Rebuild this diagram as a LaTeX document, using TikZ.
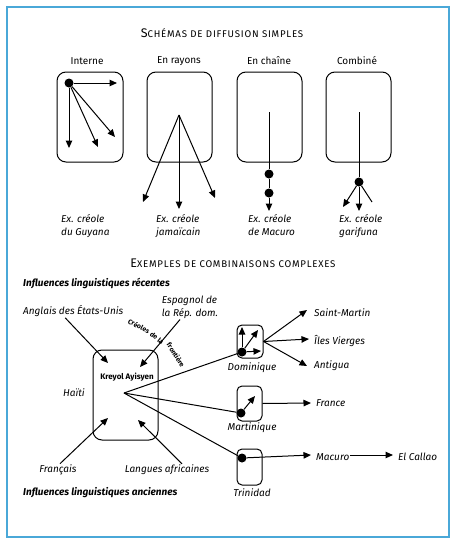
\documentclass[tikz,border=0pt]{standalone}
\usepackage{fontspec}
\setmainfont{Fira Sans}
\usepackage{xcolor}
\usepackage{tikz}
\usetikzlibrary{positioning}
\usetikzlibrary{arrows.meta}
\definecolor{frameblue}{HTML}{4AA8D8}
\newcommand{\fakesc}[2]{{\fontsize{12.5}{14}\selectfont #1}{\fontsize{9.7}{11}\selectfont\addfontfeatures{LetterSpace=8}#2}}
\tikzset {
  % rounded boxes for the places
  place/.style = {draw, rounded corners=9pt, line width=1pt},
  small/.style = {draw, rounded corners=5pt, line width=1pt},
  % starting points
  dot/.style = {circle, fill, inner sep=0pt, minimum size=9pt},
  % arrows and plain lines
  arr/.style = {-{Triangle[length=7.5pt, width=6.5pt]}, line width=1pt},
  ln/.style = {line width=1pt},
  lbl/.style = {font=\fontsize{10}{13}\selectfont\itshape, inner sep=1pt},
  head/.style = {font=\fontsize{10}{13}\selectfont, inner sep=1pt},
  infl/.style = {font=\fontsize{10}{13}\selectfont\bfseries\itshape, anchor=west, inner sep=0pt},
  % words bent along the border
  bord/.style = {font=\fontsize{6.8}{7}\selectfont\bfseries, inner sep=0pt},
}

\begin{document}
\begin{tikzpicture}[x=1pt, y=-1pt]
  \useasboundingbox (0,0) rectangle (456,544);
  \draw[frameblue, line width=1.4pt] (7,7) rectangle (449,537);

  % simple schemes
  \node (t1) at (222,33) {\fakesc{S}{CHÉMAS DE DIFFUSION SIMPLES}};
  \node[head] (h1) at (87,61) {Interne};
  \node[head] (h2) at (179,61) {En rayons};
  \node[head] (h3) at (269,61) {En chaîne};
  \node[head] (h4) at (357,61) {Combiné};

  \node[place, minimum width=66pt, minimum height=90pt] (b1) at (90,117) {};
  \node[place, minimum width=65pt, minimum height=90pt] (b2) at (179.5,117) {};
  \node[place, minimum width=65pt, minimum height=90pt] (b3) at (269.5,117) {};
  \node[place, minimum width=65pt, minimum height=90pt] (b4) at (358.5,117) {};

  % interne
  \node[dot] (d1) at (69,83) {};
  \coordinate (i1) at (117,83);
  \coordinate (i2) at (115,137);
  \coordinate (i3) at (98,147);
  \coordinate (i4) at (69,148);
  \draw[arr] (d1) -- (i1);
  \draw[arr] (d1) -- (i2);
  \draw[arr] (d1) -- (i3);
  \draw[arr] (d1) -- (i4);

  % en rayons
  \coordinate (r0) at (179,115);
  \coordinate (r1) at (143,202);
  \coordinate (r2) at (179,209);
  \coordinate (r3) at (215,198);
  \draw[arr] (r0) -- (r1);
  \draw[arr] (r0) -- (r2);
  \draw[arr] (r0) -- (r3);

  % en chaine
  \coordinate (c0) at (269,112);
  \node[dot] (c1) at (269,174) {};
  \node[dot] (c2) at (269,193) {};
  \coordinate (c3) at (269,211);
  \draw[ln] (c0) -- (c1) -- (c2);
  \draw[arr] (c2) -- (c3);

  % combine
  \coordinate (m0) at (359,112);
  \node[dot] (m1) at (359,182) {};
  \coordinate (m2) at (343,207);
  \coordinate (m3) at (359,211);
  \coordinate (m4) at (372,202);
  \draw[ln] (m0) -- (m1);
  \draw[arr] (m1) -- (m2);
  \draw[arr] (m1) -- (m3);
  \draw[ln] (m1) -- (m4);

  \node[lbl, align=left, anchor=north west] (e1) at (60,213) {Ex. créole\\du Guyana};
  \node[lbl, align=left, anchor=north west] (e2) at (155,213) {Ex. créole\\jamaïcain};
  \node[lbl, align=left, anchor=north west] (e3) at (247,213) {Ex. créole\\de Macuro};
  \node[lbl, align=left, anchor=north west] (e4) at (338,213) {Ex. créole\\garifuna};

  % complex combinations
  \node (t2) at (233,263) {\fakesc{E}{XEMPLES DE COMBINAISONS COMPLEXES}};
  \node[infl] (rec) at (23,283) {Influences linguistiques récentes};
  \node[infl] (anc) at (23,493) {Influences linguistiques anciennes};

  \node[lbl, anchor=west] (anglais) at (22,311) {Anglais des États-Unis};
  \node[lbl, align=left] (espagnol) at (190,307) {Espagnol de\\la Rép. dom.};
  \node[lbl] (francais) at (58,470) {Français};
  \node[lbl] (langues) at (167,470) {Langues africaines};

  \node[place, minimum width=65pt, minimum height=90pt] (haiti) at (125.5,395) {};
  \node[font=\fontsize{8}{9}\selectfont\bfseries] (kreyol) at (127,377) {Kreyol Ayisyen};
  \node[lbl] (hlbl) at (74,393) {Haïti};
  \coordinate (src) at (124,393);

  \coordinate (a1) at (108,363);
  \coordinate (a2) at (140,367);
  \coordinate (a3) at (108,418);
  \coordinate (a4) at (138,420);
  \draw[arr] ([xshift=-8pt]anglais.south) -- (a1);
  \draw[arr] ([xshift=-10pt]espagnol.south) -- (a2);
  \draw[arr] ([xshift=2pt]francais.north) -- (a3);
  \draw[arr] ([xshift=15pt]langues.north) -- (a4);

  % creoles along the border
  \node[bord, rotate=-27] (fr1) at (139,326) {Créoles};
  \node[bord, rotate=-38] (fr2) at (157,338) {de la};
  \node[bord, rotate=-58] (fr3) at (176,355) {frontière};

  % Dominique
  \node[small, minimum width=26pt, minimum height=33pt] (dom) at (250,341.5) {};
  \node[dot] (dd) at (242,352) {};
  \coordinate (dd1) at (242,327);
  \coordinate (dd2) at (258,330);
  \coordinate (dd3) at (261,351);
  \draw[arr] (dd) -- (dd1);
  \draw[arr] (dd) -- (dd2);
  \draw[arr] (dd) -- (dd3);
  \node[lbl] (domlbl) at (252,368) {Dominique};

  \node[lbl, anchor=west] (stm) at (313,313) {Saint-Martin};
  \node[lbl, anchor=west] (iles) at (313,341) {Îles Vierges};
  \node[lbl, anchor=west] (ant) at (313,366) {Antigua};
  \draw[arr] (dom.east) -- ([xshift=-6pt, yshift=3pt]stm.west);
  \draw[arr] (dom.east) -- ([xshift=-4pt, yshift=2pt]iles.west);
  \draw[arr] (dom.east) -- ([xshift=-6pt]ant.west);

  % Martinique
  \node[small, minimum width=25pt, minimum height=35pt] (mart) at (249.5,403.5) {};
  \node[dot] (md) at (241,413) {};
  \coordinate (md1) at (255,396);
  \draw[arr] (md) -- (md1);
  \node[lbl] (martlbl) at (252,428) {Martinique};
  \node[lbl, anchor=west] (france) at (315,403) {France};
  \draw[arr] (mart.east) -- ([xshift=-4pt]france.west);

  % Trinidad
  \node[small, minimum width=25pt, minimum height=36pt] (trin) at (249.5,467) {};
  \node[dot] (td) at (242,458) {};
  \node[lbl] (trinlbl) at (252,493) {Trinidad};
  \node[lbl, anchor=west] (macuro) at (315,457) {Macuro};
  \node[lbl, anchor=west] (callao) at (397,457) {El Callao};
  \draw[arr] (td) -- ([xshift=-4pt, yshift=2pt]macuro.west);
  \draw[arr] ([yshift=2pt]macuro.east) -- ([xshift=-4pt, yshift=2pt]callao.west);

  % from Haiti to the islands
  \draw[ln] (src) -- (dd);
  \draw[ln] (src) -- (md);
  \draw[ln] (src) -- (td);
\end{tikzpicture}
\end{document}
